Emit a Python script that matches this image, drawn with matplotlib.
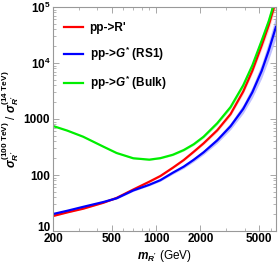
import numpy as np
import matplotlib
matplotlib.use('Agg')
import matplotlib.pyplot as plt
import matplotlib.transforms as mtransforms
from matplotlib.ticker import FixedLocator, FixedFormatter, LogLocator, NullFormatter

# resonance mass (GeV)
mass = [200, 250, 320, 440, 540, 700, 900, 1070, 1300, 1540, 1800, 2100, 2600, 3200, 3900, 4500, 5200, 5800, 6500]

# cross-section ratio sigma(100 TeV) / sigma(14 TeV)
ratio_r = [18.5, 21.5, 25, 32, 39, 55, 76, 96, 135, 185, 260, 368, 630, 1225, 3100, 7300, 20500, 47000, 130000]
ratio_rs1 = [20.1, 23, 27, 33, 38.4, 53, 67, 81, 110, 141, 187, 254, 416, 743, 1517, 3010, 7200, 16500, 44000]
ratio_bulk = [750, 620, 483, 320, 247, 199, 188, 200, 230, 279, 354, 482, 841, 1633, 4000, 9100, 25000, 55000, 150000]

# uncertainty band half-width (decades)
band_rs1 = [0.01, 0.01, 0.01, 0.012, 0.014, 0.016, 0.018, 0.02, 0.025, 0.03, 0.035, 0.04, 0.05, 0.06, 0.08, 0.1, 0.13, 0.16, 0.2]
band_other = [0.006, 0.006, 0.006, 0.007, 0.008, 0.01, 0.011, 0.012, 0.015, 0.018, 0.02, 0.025, 0.03, 0.036, 0.045, 0.055, 0.07, 0.09, 0.11]

labels = ["pp->R'", 'pp->$G^{*}$ (RS1)', 'pp->$G^{*}$ (Bulk)']

plt.rcParams['font.family'] = 'Liberation Sans'
plt.rcParams['font.weight'] = 'bold'
plt.rcParams['mathtext.fontset'] = 'custom'
plt.rcParams['mathtext.rm'] = 'Liberation Sans:bold'
plt.rcParams['mathtext.it'] = 'Liberation Sans:bold:italic'
plt.rcParams['mathtext.bf'] = 'Liberation Sans:bold'

fig = plt.figure(figsize=(2.79, 2.68), dpi=100)
ax = fig.add_axes([0.19, 0.138, 0.799, 0.836])

m = np.array(mass)
series = [
    (np.array(ratio_r), np.array(band_other), '#ff0000', 0.18),
    (np.array(ratio_rs1), np.array(band_rs1), '#0000ff', 0.25),
    (np.array(ratio_bulk), np.array(band_other), '#00ee00', 0.25),
]
for (vals, band, col, a), lab in zip(series, labels):
    ax.fill_between(m, vals * 10 ** (-band), vals * 10 ** band, color=col, alpha=a, lw=0)
    ax.plot(m, vals, color=col, lw=1.6, label=lab)

ax.set_xscale('log')
ax.set_yscale('log')
ax.set_xlim(200, 6500)
ax.set_ylim(10, 1e5)

xt = [200, 500, 1000, 2000, 5000]
ax.xaxis.set_major_locator(FixedLocator(xt))
ax.xaxis.set_major_formatter(FixedFormatter([str(v) for v in xt]))
ax.xaxis.set_minor_locator(FixedLocator([300, 400, 600, 700, 800, 900, 3000, 4000, 6000]))
ax.xaxis.set_minor_formatter(NullFormatter())

yt = [10, 100, 1000, 1e4, 1e5]
ax.yaxis.set_major_locator(FixedLocator(yt))
ax.yaxis.set_major_formatter(FixedFormatter(['10', '100', '1000', '$10^4$', '$10^5$']))
ax.yaxis.set_minor_locator(LogLocator(base=10, subs=np.arange(2, 10)))
ax.yaxis.set_minor_formatter(NullFormatter())

ax.tick_params(which='both', direction='in', top=True, right=True, color='#999999', labelsize=8.5, pad=2)
ax.tick_params(axis='x', which='major', pad=1.5)
ax.tick_params(which='major', length=4, width=0.6)
ax.tick_params(which='minor', length=2, width=0.5)
for s in ax.spines.values():
    s.set_color('#999999')
    s.set_linewidth(0.8)

# the lowest y label sits just above the first x label, as in the original
fig.canvas.draw()
lab10 = ax.yaxis.get_majorticklabels()[0]
lab10.set_transform(lab10.get_transform() + mtransforms.ScaledTranslation(0, 3 / 72, fig.dpi_scale_trans))

ax.set_xlabel("$m_{R'}$ (GeV)", fontsize=8.5, labelpad=2)
ax.set_ylabel(r"$\sigma_{R'}^{(100\ \mathrm{TeV})}$ / $\sigma_{R'}^{(14\ \mathrm{TeV})}$", fontsize=8.5, labelpad=2)

ax.legend(loc='upper left', bbox_to_anchor=(0.0, 0.98), frameon=False, fontsize=8.5,
          handlelength=1.6, handletextpad=0.6, labelspacing=0.9)

fig.savefig('out.png', dpi=100)
